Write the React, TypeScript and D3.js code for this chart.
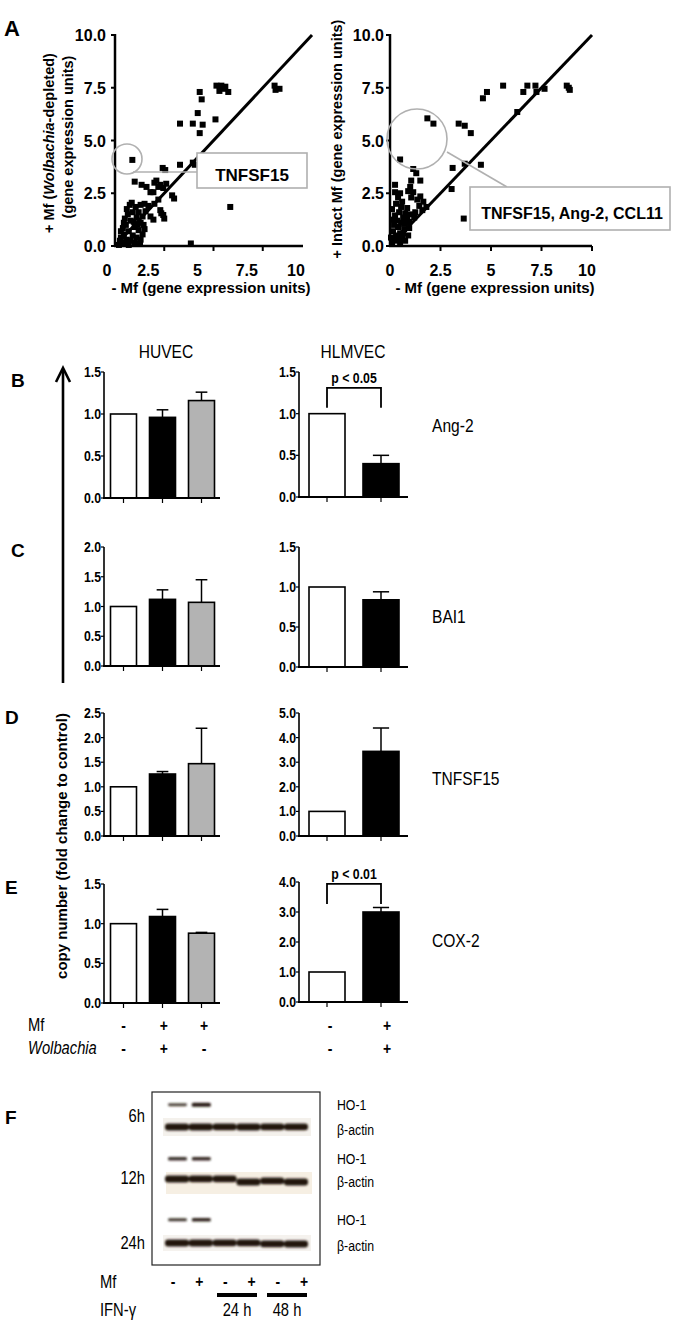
import React from 'react';
import * as d3 from 'd3';

const SANS = "'Liberation Sans', Arial, Helvetica, sans-serif";

// ---------- Panel A data ----------
const scatterTicks = [0, 2.5, 5, 7.5, 10];
const leftPoints: [number, number][] = [
  [5.15, 7.6], [5.4, 7.6], [5.6, 7.55], [5.3, 7.35], [5.75, 7.3], [5.5, 7.45],
  [8.1, 7.6], [8.15, 7.4], [8.35, 7.45],
  [4.3, 7.3], [4.4, 6.95], [4.2, 6.3], [5.1, 6.0],
  [3.3, 5.8], [3.95, 5.8], [4.45, 5.75], [4.3, 5.35],
  [5.85, 1.85], [3.3, 3.85], [3.95, 3.95], [4.05, 3.85],
  [2.42, 3.7], [2.55, 3.6], [0.88, 4.08],
  [1.0, 3.05], [1.35, 2.9], [1.6, 2.8], [2.0, 3.0], [2.2, 2.8], [1.8, 2.55], [1.95, 2.55],
  [2.1, 3.1], [2.3, 2.9], [2.45, 2.75], [2.9, 2.4], [3.0, 2.25], [2.6, 2.95],
  [2.3, 1.7], [2.45, 1.47], [1.8, 1.4], [1.95, 1.25], [2.35, 1.55], [2.5, 1.3],
  [2.0, 2.0], [1.7, 1.9], [2.2, 2.2], [1.5, 2.0], [1.3, 1.95], [1.55, 1.65],
  [1.27, 0.12], [3.85, 0.12],
  [0.2, 0.05], [0.35, 0.15], [0.5, 0.1], [0.7, 0.05], [0.3, 0.4], [0.45, 0.55], [0.6, 0.3],
  [0.8, 0.25], [1.0, 0.15], [0.4, 0.85], [0.55, 1.0], [0.7, 0.7], [0.9, 0.5], [1.1, 0.4],
  [1.3, 0.3], [0.5, 1.3], [0.65, 1.5], [0.8, 1.2], [1.0, 0.9], [1.2, 0.75], [1.4, 0.55],
  [0.6, 1.75], [0.75, 1.95], [0.9, 1.6], [1.1, 1.35], [1.3, 1.1], [0.85, 2.05], [1.05, 1.85],
  [1.2, 1.6], [1.4, 1.4], [0.3, 0.7], [0.45, 1.1], [0.95, 1.15], [1.15, 1.0], [0.25, 0.25],
  [1.45, 1.0], [1.5, 0.8],
];
const rightPoints: [number, number][] = [
  [5.6, 7.6], [4.8, 7.3], [4.6, 7.0], [6.8, 7.6], [7.2, 7.6], [6.6, 7.3], [7.25, 7.3],
  [7.65, 7.45], [8.75, 7.6], [8.9, 7.4], [8.85, 7.5], [6.3, 6.35], [1.85, 6.05], [2.15, 5.8],
  [3.4, 5.8], [3.7, 5.7], [4.0, 5.35], [0.5, 4.1], [3.1, 3.7], [3.7, 3.9], [4.5, 3.85],
  [3.05, 2.7], [3.65, 1.3], [0.25, 2.9],
  [1.15, 3.65], [1.3, 3.45], [1.5, 3.1], [1.05, 3.1], [1.0, 2.8], [1.15, 2.55], [1.5, 2.35],
  [1.65, 2.1], [1.8, 1.85], [1.45, 1.9], [1.25, 1.6], [1.05, 2.3], [0.9, 2.6], [1.35, 2.2],
  [1.6, 1.7], [1.2, 1.35], [0.95, 1.15],
  [0.1, 0.1], [0.2, 0.3], [0.3, 0.5], [0.15, 0.7], [0.4, 0.9], [0.5, 0.6], [0.6, 0.35],
  [0.7, 0.8], [0.8, 1.1], [0.35, 1.2], [0.25, 1.45], [0.45, 1.6], [0.55, 1.85], [0.3, 2.0],
  [0.65, 1.35], [0.75, 1.55], [0.85, 1.8], [0.6, 2.1], [0.4, 2.3], [0.2, 1.0], [0.05, 0.4],
  [0.5, 0.15], [0.75, 0.25], [0.9, 0.5], [0.1, 1.75], [0.95, 0.85], [0.35, 0.25], [0.65, 0.6],
  [0.45, 0.4], [0.15, 1.25], [0.7, 1.05], [0.55, 1.1], [1.0, 1.5], [0.85, 1.35], [0.25, 2.55],
  [0.5, 2.5],
];

// ---------- Panels B-E data ----------
const genes = ['Ang-2', 'BAI1', 'TNFSF15', 'COX-2'];
const rowLetters = ['B', 'C', 'D', 'E'];
const huvecGroups = ['ctrl', 'mf_wol', 'mf_nowol'];
const hlmvecGroups = ['ctrl', 'mf_wol'];
const huvecMeans = [[1, 0.96, 1.16], [1, 1.12, 1.07], [1, 1.26, 1.47], [1, 1.09, 0.88]];
const huvecErr = [[0, 0.09, 0.1], [0, 0.16, 0.38], [0, 0.05, 0.72], [0, 0.09, 0.01]];
const hlmvecMeans = [[1, 0.4], [1, 0.84], [1, 3.44], [1, 3.0]];
const hlmvecErr = [[0, 0.1], [0, 0.1], [0, 0.95], [0, 0.15]];
const huvecMax = [1.5, 2.0, 2.5, 1.5];
const huvecStep = [0.5, 0.5, 0.5, 0.5];
const hlmvecMax = [1.5, 1.5, 5.0, 4.0];
const hlmvecStep = [0.5, 0.5, 1.0, 1.0];
const sigLabels = ['p < 0.05', null, null, 'p < 0.01'];
const sigBracket = [[1.31, 1.07], null, null, [3.94, 3.27]];
const mfSigns = ['-', '+', '+'];
const wolSigns = ['-', '+', '-'];

// ---------- Panel F data ----------
const blotTimes = ['6h', '12h', '24h'];
const blotLanes = ['1', '2', '3', '4', '5', '6'];
const ho1Level = [[0.55, 1, 0, 0, 0, 0], [0.75, 0.85, 0, 0, 0, 0], [0.7, 0.9, 0, 0, 0, 0]];
const actinLevel = [[1, 1, 0.95, 1, 0.95, 0.95], [1, 0.95, 0.95, 1, 0.95, 1], [1, 1, 0.95, 0.95, 0.95, 1]];
const blotMf = ['-', '+', '-', '+', '-', '+'];
const ifnGroups = ['24 h', '48 h'];

// ---------- layout (style) ----------
const huvecZero = [498, 666, 836, 1003];
const huvecTop = [372, 547, 713, 884];
const hlmvecZero = [497, 667, 836, 1002];
const hlmvecTop = [372, 547, 713, 882];
const letterPos = [[11, 387], [11, 557], [5, 724], [5, 894]];
const geneY = [432, 623, 785, 947];

const fill = (g: string) => (g === 'ctrl' ? '#ffffff' : g === 'mf_wol' ? '#000000' : '#b3b3b3');

// condensed text (narrow look) by horizontal scaling
function NT(props: {
  x: number; y: number; size: number; anchor?: string; bold?: boolean; italic?: boolean; sx?: number;
  children: React.ReactNode;
}) {
  const { x, y, size, anchor = 'start', bold, italic, sx = 0.82, children } = props;
  return (
    <text transform={`translate(${x},${y}) scale(${sx},1)`} textAnchor={anchor} fontFamily={SANS}
      fontSize={size} fontWeight={bold ? 'bold' : 'normal'} fontStyle={italic ? 'italic' : 'normal'}>
      {children}
    </text>
  );
}

function Scatter(props: {
  x0: number; x1: number; axisEnd: number; labelShift: (t: number) => number; labelGap: number;
  points: [number, number][];
}) {
  const { x0, x1, axisEnd, labelShift, labelGap, points } = props;
  const x = d3.scaleLinear().domain([0, 10]).range([x0, x1]);
  const y = d3.scaleLinear().domain([0, 10]).range([246, 35]);
  const s = 6;
  return (
    <g>
      {points.map((p, i) => (
        <rect key={i} x={x(p[0]) - s / 2} y={y(p[1]) - s / 2} width={s} height={s} fill="#000" />
      ))}
      <line x1={x(0)} y1={y(0)} x2={x(10)} y2={y(10)} stroke="#000" strokeWidth={3} />
      <line x1={x0} y1={y(0)} x2={x0} y2={y(10) - 1} stroke="#000" strokeWidth={2.5} />
      <line x1={x0 - 1} y1={y(0)} x2={axisEnd} y2={y(0)} stroke="#000" strokeWidth={2.5} />
      {scatterTicks.map((t) => (
        <g key={'y' + t}>
          <line x1={x0 - 4} x2={x0} y1={y(t)} y2={y(t)} stroke="#000" strokeWidth={2} />
          <text x={x0 - labelGap} y={y(t) + 6} textAnchor="end" fontFamily={SANS} fontWeight="bold" fontSize={16}>
            {t.toFixed(1)}
          </text>
        </g>
      ))}
      {scatterTicks.map((t) => (
        <g key={'x' + t}>
          {x(t) <= axisEnd + 0.5 && t > 0 && (
            <line x1={x(t)} x2={x(t)} y1={y(0)} y2={y(0) + 5} stroke="#000" strokeWidth={2} />
          )}
          <text x={x(t) + labelShift(t)} y={276} textAnchor="middle" fontFamily={SANS} fontWeight="bold" fontSize={16}>
            {String(t)}
          </text>
        </g>
      ))}
    </g>
  );
}

function BarPanel(props: {
  groups: string[]; means: number[]; errs: number[]; yMax: number; step: number;
  zero: number; top: number; axisX: number; axisEnd: number; bandStart: number; bandEnd: number; barW: number;
  sig?: string | null; bracket?: number[] | null;
}) {
  const { groups, means, errs, yMax, step, zero, top, axisX, axisEnd, bandStart, bandEnd, barW, sig, bracket } = props;
  const y = d3.scaleLinear().domain([0, yMax]).range([zero, top]);
  const x = d3.scalePoint<string>().domain(groups).range([bandStart, bandEnd]);
  const ticks = d3.range(0, yMax + step / 2, step);
  const xb = (g: string) => x(g) as number;
  return (
    <g>
      {groups.map((g, i) => {
        const cx = xb(g);
        const capW = barW * 0.45;
        return (
          <g key={g}>
            {errs[i] > 0 && (
              <g>
                <line x1={cx} x2={cx} y1={y(means[i])} y2={y(means[i] + errs[i])} stroke="#000" strokeWidth={1.5} />
                <line x1={cx - capW / 2} x2={cx + capW / 2} y1={y(means[i] + errs[i])} y2={y(means[i] + errs[i])} stroke="#000" strokeWidth={1.5} />
              </g>
            )}
            <rect x={cx - barW / 2} y={y(means[i])} width={barW} height={zero - y(means[i])}
              fill={fill(g)} stroke="#000" strokeWidth={1.6} />
            <line x1={cx} x2={cx} y1={zero} y2={zero + 5} stroke="#000" strokeWidth={1.2} />
          </g>
        );
      })}
      <line x1={axisX} x2={axisX} y1={zero} y2={top} stroke="#000" strokeWidth={1.6} />
      <line x1={axisX - 1} x2={axisEnd} y1={zero} y2={zero} stroke="#000" strokeWidth={2} />
      {ticks.map((t) => (
        <g key={t}>
          <line x1={axisX - 3} x2={axisX} y1={y(t)} y2={y(t)} stroke="#000" strokeWidth={1.2} />
          <NT x={axisX - 3} y={y(t) + 5} anchor="end" bold size={15}>{t.toFixed(1)}</NT>
        </g>
      ))}
      {sig && bracket && (
        <g>
          <path
            d={`M${xb(groups[0])},${y(bracket[1])} V${y(bracket[0])} H${xb(groups[1])} V${y(bracket[1])}`}
            fill="none" stroke="#000" strokeWidth={1.8} />
          <NT x={(xb(groups[0]) + xb(groups[1])) / 2} y={y(bracket[0]) - 5} anchor="middle" bold size={15}>{sig}</NT>
        </g>
      )}
    </g>
  );
}

function Blot() {
  const lane = d3.scalePoint<string>().domain(blotLanes).range([177, 296]);
  const signX = d3.scalePoint<string>().domain(blotLanes).range([173, 304]);
  const hoY = [1105, 1159, 1220];
  const actY = [1127, 1179, 1243];
  const actDrop = [[0, 0, 0, 0, 0, 0], [0, 0, 0, 3, 2, 3], [0, 0, 0, 0, 1, 1]];
  const ifnX = [[217, 257], [267, 307]];
  return (
    <g>
      <defs>
        <filter id="blur" x="-20%" y="-100%" width="140%" height="300%">
          <feGaussianBlur stdDeviation="0.9" />
        </filter>
      </defs>
      <rect x={152} y={1092} width={168} height={173} fill="#fff" stroke="#222" strokeWidth={1.2} />
      <rect x={163} y={1118} width={148} height={18} fill="#f4f1ec" />
      <rect x={166} y={1172} width={146} height={22} fill="#f6efe3" />
      <rect x={163} y={1235} width={148} height={16} fill="#f5f2ee" />
      <g filter="url(#blur)">
        {blotTimes.map((t, r) => (
          <g key={t}>
            {blotLanes.map((l, i) => (
              <g key={l}>
                {ho1Level[r][i] > 0 && (
                  <rect x={(lane(l) as number) - 9} y={hoY[r] - 1 - ho1Level[r][i] * 1.2}
                    width={19} height={1.5 + ho1Level[r][i] * 2.4} rx={1.5} fill="#2a1d14"
                    opacity={0.6 + 0.4 * ho1Level[r][i]} />
                )}
                <rect x={(lane(l) as number) - 12} y={actY[r] + actDrop[r][i] - 3.5} width={24}
                  height={7 * actinLevel[r][i]} rx={3} fill="#23170f" />
              </g>
            ))}
          </g>
        ))}
      </g>
      {blotTimes.map((t, r) => (
        <g key={t}>
          <NT x={145} y={[1122, 1184, 1249][r]} anchor="end" size={18}>{t}</NT>
          <NT x={337} y={hoY[r] + 5} size={15}>HO-1</NT>
          <NT x={337} y={actY[r] + 8} size={15}>β-actin</NT>
        </g>
      ))}
      <NT x={100} y={1288} size={18}>Mf</NT>
      {blotLanes.map((l, i) => (
        <NT key={l} x={signX(l) as number} y={1287} anchor="middle" bold size={17}>{blotMf[i]}</NT>
      ))}
      <NT x={100} y={1316} size={18}>IFN-γ</NT>
      {ifnGroups.map((g, i) => (
        <g key={g}>
          <line x1={ifnX[i][0]} x2={ifnX[i][1]} y1={1295} y2={1295} stroke="#000" strokeWidth={4} />
          <NT x={(ifnX[i][0] + ifnX[i][1]) / 2} y={1316} anchor="middle" size={18}>{g}</NT>
        </g>
      ))}
    </g>
  );
}

export default function App() {
  return (
    <svg width={676} height={1326} viewBox="0 0 676 1326" style={{ position: 'absolute', left: 0, top: 0, background: '#fff' }}>
      <rect width={676} height={1326} fill="#fff" />
      {/* Panel A */}
      <text x={4} y={36} fontFamily={SANS} fontWeight="bold" fontSize={22}>A</text>
      <Scatter x0={115} x1={312} axisEnd={303} labelShift={(t) => (t === 0 ? -8 : -16)} labelGap={9} points={leftPoints} />
      <Scatter x0={390} x1={592} axisEnd={592} labelShift={(t) => (t === 10 ? -5 : 0)} labelGap={6} points={rightPoints} />
      <g transform="translate(54,143) rotate(-90)">
        <text textAnchor="middle" fontFamily={SANS} fontWeight="bold" fontSize={14.5}>
          + Mf (<tspan fontStyle="italic">Wolbachia</tspan>-depleted)
        </text>
      </g>
      <g transform="translate(73,137) rotate(-90)">
        <text textAnchor="middle" fontFamily={SANS} fontWeight="bold" fontSize={14.5}>(gene expression units)</text>
      </g>
      <g transform="translate(342,139) rotate(-90)">
        <text textAnchor="middle" fontFamily={SANS} fontWeight="bold" fontSize={14.5}>+ Intact Mf (gene expression units)</text>
      </g>
      <text x={211} y={293} textAnchor="middle" fontFamily={SANS} fontWeight="bold" fontSize={15}>- Mf (gene expression units)</text>
      <text x={495} y={293} textAnchor="middle" fontFamily={SANS} fontWeight="bold" fontSize={15}>- Mf (gene expression units)</text>
      {/* annotations */}
      <circle cx={127} cy={159} r={15} fill="none" stroke="#b0b0b0" strokeWidth={1.6} />
      <line x1={133} y1={172} x2={197} y2={172} stroke="#b0b0b0" strokeWidth={1.6} />
      <rect x={197} y={153} width={110} height={35} fill="#fff" stroke="#b0b0b0" strokeWidth={1.6} />
      <text x={252} y={181} textAnchor="middle" fontFamily={SANS} fontWeight="bold" fontSize={17}>TNFSF15</text>
      <circle cx={417} cy={139} r={30} fill="none" stroke="#b0b0b0" strokeWidth={1.6} />
      <line x1={447} y1={152} x2={507} y2={187} stroke="#b0b0b0" strokeWidth={1.6} />
      <rect x={470} y={187} width={200} height={43} fill="#fff" stroke="#b0b0b0" strokeWidth={1.6} />
      <text x={572} y={219} textAnchor="middle" fontFamily={SANS} fontWeight="bold" fontSize={16}>TNFSF15, Ang-2, CCL11</text>

      {/* Panels B-E */}
      <NT x={166} y={358} anchor="middle" size={19}>HUVEC</NT>
      <NT x={353} y={358} anchor="middle" size={19}>HLMVEC</NT>
      <line x1={63} x2={63} y1={683} y2={370} stroke="#000" strokeWidth={2.6} />
      <path d="M56,382 L63,368 L70,382" fill="none" stroke="#000" strokeWidth={2.6} />
      <g transform="translate(67,846) rotate(-90)">
        <text textAnchor="middle" fontFamily={SANS} fontWeight="bold" fontSize={15}>copy number (fold change to control)</text>
      </g>
      {genes.map((g, r) => (
        <g key={g}>
          <text x={letterPos[r][0]} y={letterPos[r][1]} fontFamily={SANS} fontWeight="bold" fontSize={19}>{rowLetters[r]}</text>
          <BarPanel groups={huvecGroups} means={huvecMeans[r]} errs={huvecErr[r]} yMax={huvecMax[r]} step={huvecStep[r]}
            zero={huvecZero[r]} top={huvecTop[r]} axisX={104} axisEnd={220} bandStart={123.5} bandEnd={201.5} barW={26} />
          <BarPanel groups={hlmvecGroups} means={hlmvecMeans[r]} errs={hlmvecErr[r]} yMax={hlmvecMax[r]} step={hlmvecStep[r]}
            zero={hlmvecZero[r]} top={hlmvecTop[r]} axisX={299} axisEnd={408} bandStart={327} bandEnd={381} barW={36}
            sig={sigLabels[r]} bracket={sigBracket[r]} />
          <NT x={432} y={geneY[r]} size={19}>{g}</NT>
        </g>
      ))}
      <NT x={28} y={1031} size={18}>Mf</NT>
      <NT x={28} y={1054} size={18} italic>Wolbachia</NT>
      {huvecGroups.map((g, i) => {
        const xs = d3.scalePoint<string>().domain(huvecGroups).range([123.5, 204]);
        return (
          <g key={g}>
            <NT x={xs(g) as number} y={1031} anchor="middle" bold size={17}>{mfSigns[i]}</NT>
            <NT x={xs(g) as number} y={1054} anchor="middle" bold size={17}>{wolSigns[i]}</NT>
          </g>
        );
      })}
      {hlmvecGroups.map((g, i) => {
        const xs = d3.scalePoint<string>().domain(hlmvecGroups).range([330, 387]);
        return (
          <g key={g}>
            <NT x={xs(g) as number} y={1031} anchor="middle" bold size={17}>{mfSigns[i]}</NT>
            <NT x={xs(g) as number} y={1054} anchor="middle" bold size={17}>{wolSigns[i]}</NT>
          </g>
        );
      })}

      {/* Panel F */}
      <text x={5} y={1124} fontFamily={SANS} fontWeight="bold" fontSize={19}>F</text>
      <Blot />
    </svg>
  );
}
